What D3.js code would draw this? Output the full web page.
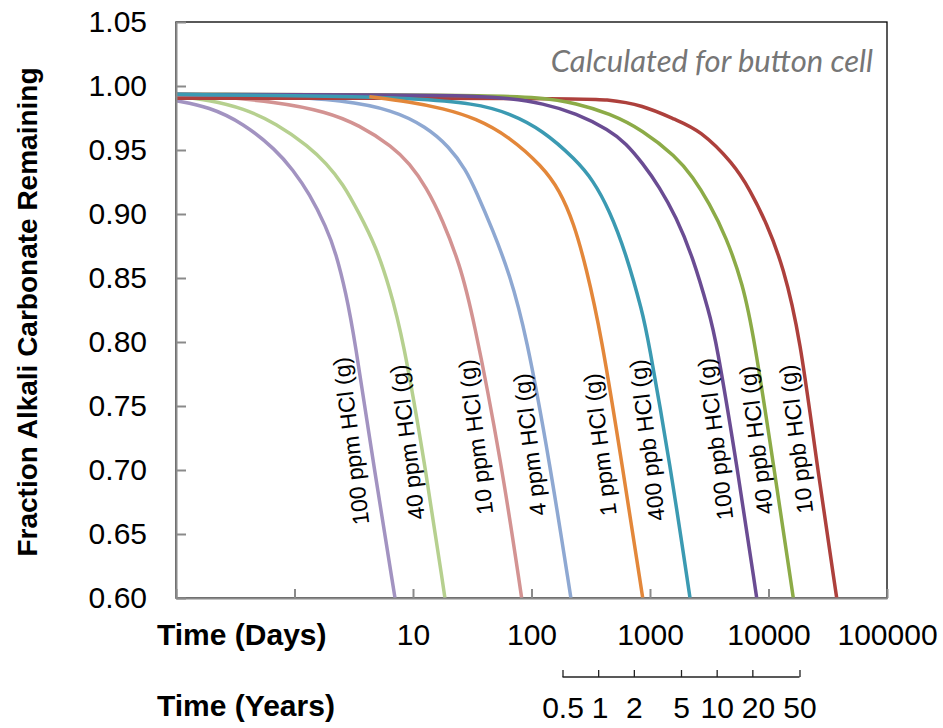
<html>
<head>
<script src="https://d3js.org/d3.v7.min.js"></script>
<style>
    body { margin: 0; background: white; }
    text { font-family: 'Liberation Sans', Arial, sans-serif; fill: black; }
    .curve { fill: none; stroke-width: 3.5px; stroke-linejoin: round; }
    .axis path, .axis line { stroke: #8a8a8a; stroke-width: 2px; }
    .axis text { font-size: 30px; }
    .years path { display: none; }
    .years line, .years-line { stroke: #222; stroke-width: 1.3px; }
    .years text { font-size: 30px; }
    .frame { fill: none; stroke: black; stroke-width: 1.3px; }
    .axis-title { font-size: 30px; font-weight: bold; }
    .curve-label { font-size: 23px; }
    .note { font-family: Lato, 'Open Sans', sans-serif; font-style: italic; font-size: 31px; fill: #767676; }
</style>
</head>
<body>
<svg id="chart" width="943" height="728"></svg>
<script>
// ticks
const yTicks = [0.60, 0.65, 0.70, 0.75, 0.80, 0.85, 0.90, 0.95, 1.00, 1.05];
const dayTicks = [0.1, 1, 10, 100, 1000, 10000, 100000];
const dayTickLabels = ['', '', '10', '100', '1000', '10000', '100000'];
const yearTicks = [0.5, 1, 2, 5, 10, 20, 50];
const yearTickLabels = ['0.5', '1', '2', '5', '10', '20', '50'];
const daysPerYear = 365.25;

// series: [days, fraction remaining]
const seriesNames = ['100 ppm HCl (g)', '40 ppm HCl (g)', '10 ppm HCl (g)', '4 ppm HCl (g)', '1 ppm HCl (g)',
                     '400 ppb HCl (g)', '100 ppb HCl (g)', '40 ppb HCl (g)', '10 ppb HCl (g)'];

const hcl100ppm = [[0.1, 0.9885], [0.19, 0.9838], [0.37, 0.9709], [0.70, 0.950], [0.97, 0.9344], [1.33, 0.9162],
                   [1.85, 0.890], [2.24, 0.8693], [2.72, 0.838], [3.2, 0.804], [4.63, 0.705], [7.05, 0.60]];
const hcl40ppm = [[0.1, 0.9922], [0.19, 0.989], [0.37, 0.9826], [0.70, 0.9709], [1.33, 0.9526], [1.85, 0.9396],
                  [2.55, 0.924], [3.52, 0.9005], [4.87, 0.8745], [6.31, 0.8432], [8.19, 0.804], [12.6, 0.705], [18.6, 0.60]];
const hcl10ppm = [[0.1, 0.9928], [0.19, 0.9922], [0.70, 0.9877], [1.85, 0.980], [3.52, 0.9695], [6.74, 0.9526],
                  [9.31, 0.9396], [12.9, 0.9213], [17.8, 0.8953], [24.6, 0.8615], [31.9, 0.8224],
                  [56, 0.7052], [82.6, 0.60]];
const hcl4ppm = [[0.1, 0.9932], [0.70, 0.9922], [2.55, 0.989], [6.74, 0.9813], [12.9, 0.9682], [20.2, 0.9526],
                 [28.0, 0.9344], [34.0, 0.918], [47.1, 0.8875], [65.0, 0.8537], [89.9, 0.8068], [143, 0.7052], [215, 0.60]];
const hcl1ppm = [[4.28, 0.9917], [9.31, 0.9877], [17.8, 0.9826], [34.0, 0.9748], [65.0, 0.9604], [124, 0.937],
                 [172, 0.9188], [228, 0.8927], [288, 0.8589], [386, 0.8068], [580, 0.705], [868, 0.60]];
const hcl400ppb = [[0.1, 0.9935], [2.55, 0.992], [9.31, 0.9904], [34, 0.9865], [65, 0.9787], [124, 0.9656],
                   [238, 0.9422], [329, 0.9266], [454, 0.9031], [627, 0.8693], [868, 0.8224], [956, 0.8042],
                   [1476, 0.7052], [2176, 0.60]];
const hcl100ppb = [[0.1, 0.9935], [9.3, 0.993], [34, 0.9922], [65, 0.9904], [124, 0.9865], [238, 0.9787],
                   [454, 0.9656], [627, 0.9552], [868, 0.9396], [1198, 0.9213], [1657, 0.8979], [2293, 0.8667],
                   [3167, 0.8224], [3606, 0.8016], [5390, 0.7052], [7954, 0.60]];
const hcl40ppb = [[0.1, 0.9936], [34, 0.993], [124, 0.9912], [238, 0.9865], [454, 0.9787], [868, 0.9656],
                  [1657, 0.9448], [2293, 0.9292], [3167, 0.9084], [4380, 0.8823], [6058, 0.8458], [7540, 0.8041],
                  [10977, 0.7052], [16191, 0.60]];
const hcl10ppb = [[0.1, 0.9905], [238, 0.9904], [425, 0.9896], [868, 0.9852], [1657, 0.9734], [2641, 0.9656],
                  [5046, 0.9396], [6980, 0.9188], [9656, 0.8927], [13330, 0.8589], [18440, 0.8042], [25510, 0.7052],
                  [37640, 0.60]];

// where each curve label starts (days, fraction)
const labelDays = [4.28, 12.6, 47.6, 134, 524, 1338, 5046, 10977, 23880];
const labelFractions = [0.658, 0.662, 0.666, 0.665, 0.665, 0.661, 0.662, 0.666, 0.667];

const seriesData = [hcl100ppm, hcl40ppm, hcl10ppm, hcl4ppm, hcl1ppm, hcl400ppb, hcl100ppb, hcl40ppb, hcl10ppb];
const colors = ['#a293c1', '#b6d08f', '#d39392', '#8ea8d2', '#e3873a', '#3b9ab2', '#6a4c93', '#8cab47', '#ad403c'];
const drawOrder = [0, 1, 2, 3, 8, 7, 6, 5, 4];

const svg = d3.select('#chart');
const svgWidth = +svg.attr('width');
const svgHeight = +svg.attr('height');
const margin = { left: 176, right: 56, top: 22, bottom: 130 };
const plotWidth = svgWidth - margin.left - margin.right;
const plotHeight = svgHeight - margin.top - margin.bottom;

const plot = svg.append('g').attr('transform', `translate(${margin.left}, ${margin.top})`);

const x = d3.scaleLog().domain([0.1, 100000]).range([0, plotWidth]);
const y = d3.scaleLinear().domain([0.60, 1.05]).range([plotHeight, 0]);
const xYears = d3.scaleLog().domain(x.domain().map(d => d / daysPerYear)).range(x.range());

// plot area border (top and right show as black)
plot.append('rect')
    .attr('class', 'frame')
    .attr('x', 0).attr('y', 0)
    .attr('width', plotWidth).attr('height', plotHeight);

// curves
const line = d3.line()
    .x(d => x(d[0]))
    .y(d => y(d[1]))
    .curve(d3.curveBasis);

plot.selectAll('path.curve')
    .data(drawOrder)
    .join('path')
    .attr('class', 'curve')
    .attr('stroke', i => colors[i])
    .attr('d', i => line(seriesData[i]));

// curve labels
plot.selectAll('text.curve-label')
    .data(seriesNames)
    .join('text')
    .attr('class', 'curve-label')
    .attr('transform', (d, i) => `translate(${x(labelDays[i])}, ${y(labelFractions[i])}) rotate(-97)`)
    .text(d => d);

// axes
plot.append('g')
    .attr('class', 'axis')
    .call(d3.axisLeft(y).tickValues(yTicks).tickFormat(d3.format('.2f'))
        .tickSize(-10).tickSizeOuter(0).tickPadding(29));

plot.append('g')
    .attr('class', 'axis')
    .attr('transform', `translate(0, ${plotHeight})`)
    .call(d3.axisBottom(x).tickValues(dayTicks).tickFormat((d, i) => dayTickLabels[i])
        .tickSize(-9).tickSizeOuter(0).tickPadding(26));

// years scale under the day axis
const yearsY = 655;
plot.append('line')
    .attr('class', 'years-line')
    .attr('x1', xYears(yearTicks[0]))
    .attr('x2', xYears(yearTicks[yearTicks.length - 1]))
    .attr('y1', yearsY).attr('y2', yearsY);

const years = plot.append('g')
    .attr('class', 'years')
    .attr('transform', `translate(0, ${yearsY})`)
    .call(d3.axisBottom(xYears).tickValues(yearTicks).tickFormat((d, i) => yearTickLabels[i])
        .tickSize(-7).tickSizeOuter(0).tickPadding(20));

// keep a space between year labels that sit close together
let prevEnd = -Infinity;
years.selectAll('.tick text').each(function(d) {
    const w = this.getComputedTextLength();
    const cx = xYears(d);
    const left = Math.max(cx - w / 2, prevEnd + 8);
    d3.select(this).attr('x', left + w / 2 - cx);
    prevEnd = left + w;
});

svg.selectAll('.axis text, .years text').attr('fill', 'black');

// titles
svg.append('text')
    .attr('class', 'axis-title')
    .attr('x', 157).attr('y', 645)
    .text('Time (Days)');

svg.append('text')
    .attr('class', 'axis-title')
    .attr('x', 157).attr('y', 716)
    .text('Time (Years)');

svg.append('text')
    .attr('class', 'axis-title')
    .attr('transform', 'translate(37, 312) rotate(-90)')
    .attr('text-anchor', 'middle')
    .style('font-size', '28px')
    .text('Fraction Alkali Carbonate Remaining');

svg.append('text')
    .attr('class', 'note')
    .attr('x', 873).attr('y', 72)
    .attr('text-anchor', 'end')
    .text('Calculated for button cell');
</script>
</body>
</html>
